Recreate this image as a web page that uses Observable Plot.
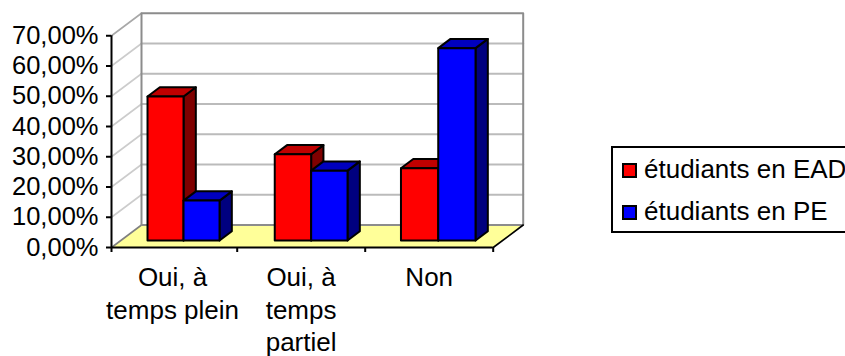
<!DOCTYPE html>
<html><head><meta charset="utf-8">
<script src="https://cdn.jsdelivr.net/npm/d3@7"></script>
<script src="https://cdn.jsdelivr.net/npm/@observablehq/plot@0.6"></script>
<style>
html,body{margin:0;padding:0;background:#fff;width:845px;height:356px;overflow:hidden}
#chart{position:absolute;left:0;top:0}
#chart svg{display:block;background:none;max-width:none}
#legend{position:absolute;left:611px;top:146px;width:250px;height:83px;border:2px solid #000;background:#fff;font:26px "Liberation Sans",Arial,sans-serif;color:#000;white-space:nowrap}
.row{position:absolute;left:9px;height:28px;line-height:28px;display:flex;align-items:center}
.sw{display:inline-block;width:11px;height:11px;border:2px solid #000;margin-right:7px}
</style></head><body>
<div id="chart"></div>
<div id="legend"></div>
<script>
// Data
const categories = ["Oui, à\ntemps plein", "Oui, à\ntemps\npartiel", "Non"];
const seriesNames = ["étudiants en EAD", "étudiants en PE"];
const ead = [47.6, 28.5, 23.9];
const pe = [13.2, 23.1, 63.6];
const yTicks = [0, 10, 20, 30, 40, 50, 60, 70];
const frontColors = ["#ff0000", "#0000ff"];
const topColors = ["#bf0000", "#0000bf"];
const sideColors = ["#7f0000", "#00007f"];

// Oblique projection, in chart units
const depthX = 0.2358, depthY = 7.44;
const catEdges = [0, 0.988, 1.994, 3];
const catCenters = [0.48, 1.49, 2.497];
const barStarts = [0.21, 1.21, 2.202];
const barWidths = [0.283, 0.286, 0.293];
const d0 = 0.31, d1 = 0.72;
const px = (u, d) => u + d * depthX;
const py = (v, d) => v + d * depthY;
const pt = (id, fill, u, v, d) => ({id, fill, x: px(u, d), y: py(v, d)});

const faces = [];
categories.forEach((_, i) => {
  [ead[i], pe[i]].forEach((v, s) => {
    const a = barStarts[i] + s * barWidths[i], b = a + barWidths[i], id = `${i}-${s}`;
    [[`${id}s`, sideColors[s], [[b,0,d0],[b,0,d1],[b,v,d1],[b,v,d0]]],
     [`${id}t`, topColors[s],  [[a,v,d0],[b,v,d0],[b,v,d1],[a,v,d1]]],
     [`${id}f`, frontColors[s],[[a,0,d0],[b,0,d0],[b,v,d0],[a,v,d0]]]]
      .forEach(([k, c, ps]) => ps.forEach(p => faces.push(pt(k, c, p[0], p[1], p[2]))));
  });
});

const floor = [[0,0,0],[3,0,0],[3,0,1],[0,0,1]].map(p => pt("floor", "#ffff99", ...p));
const wallPoly = [[0,0,1],[3,0,1],[3,70,1],[0,70,1]].map(p => pt("wall", "#ffffff", ...p));
const sidePoly = [[0,0,0],[0,0,1],[0,70,1],[0,70,0]].map(p => pt("side", "#ffffff", ...p));
const gridBack = yTicks.filter(v => v > 0 && v < 70).flatMap(v => [[0,v,1],[3,v,1]].map(p => pt(`b${v}`, "none", ...p)));
const gridSide = yTicks.filter(v => v > 0 && v < 70).flatMap(v => [[0,v,0],[0,v,1]].map(p => pt(`s${v}`, "none", ...p)));
const edgeTop = [[0,70,0],[0,70,1]].map(p => pt("e", "none", ...p));
const edgeFloorL = [[0,0,0],[0,0,1]].map(p => pt("l", "none", ...p));
const edgeFloorR = [[3,0,0],[3,0,1]].map(p => pt("r", "none", ...p));
const labels = categories.map((c, i) => ({c, x: catCenters[i]}));

const line = (d, o) => Plot.line(d, {x: "x", y: "y", z: "id", ...o});
const font = "Liberation Sans, Arial, sans-serif";
const plot = Plot.plot({
  width: 845, height: 356,
  marginLeft: 111, marginRight: 322.3, marginTop: 12.75, marginBottom: 109,
  style: {background: "transparent", fontFamily: font, color: "#000", overflow: "visible"},
  x: {domain: [0, 3 + depthX], axis: null},
  y: {domain: [0, 70 + depthY], axis: null},
  color: {type: "identity"},
  marks: [
    line(wallPoly, {fill: "fill", curve: "linear-closed"}),
    line(sidePoly, {fill: "fill", curve: "linear-closed"}),
    line(floor, {fill: "fill", curve: "linear-closed"}),
    line(gridSide, {stroke: "#cccccc", strokeWidth: 1.6}),
    line(gridBack, {stroke: "#bbbbbb", strokeWidth: 2}),
    line(edgeTop, {stroke: "#a8a8a8", strokeWidth: 1.6}),
    line(edgeFloorL, {stroke: "#808080", strokeWidth: 1.6}),
    line(wallPoly, {stroke: "#8c8c8c", strokeWidth: 2, curve: "linear-closed"}),
    line(edgeFloorR, {stroke: "#000", strokeWidth: 1.6}),
    line(faces, {fill: "fill", stroke: "#000", strokeWidth: 2, curve: "linear-closed", strokeLinejoin: "round"}),
    Plot.ruleX([0], {y1: 0, y2: 70, stroke: "#000", strokeWidth: 2}),
    Plot.ruleY([0], {x1: 0, x2: 3, stroke: "#000", strokeWidth: 2}),
    Plot.axisY(yTicks, {anchor: "left", tickSize: 5, tickPadding: 8, strokeWidth: 2, fontSize: 25.5, label: null,
      fill: "#000", tickFormat: v => v.toFixed(2).replace(".", ",") + "%"}),
    Plot.axisX(catEdges, {anchor: "bottom", tickSize: 5, strokeWidth: 2, tickFormat: () => "", label: null}),
    Plot.text(labels, {x: "x", y: 0, text: "c", dy: 15.5, fontSize: 26, lineHeight: 1.25, lineAnchor: "top", textAnchor: "middle", fill: "#000"})
  ]
});
document.getElementById("chart").append(plot);

const leg = document.getElementById("legend");
seriesNames.forEach((n, i) => {
  const r = document.createElement("div");
  r.className = "row";
  r.style.top = (i === 0 ? 7 : 49) + "px";
  const s = document.createElement("span");
  s.className = "sw"; s.style.background = frontColors[i];
  s.style.position = "relative"; s.style.top = "1px";
  const t = document.createElement("span");
  t.textContent = n;
  r.append(s, t);
  leg.append(r);
});
</script>
</body></html>
